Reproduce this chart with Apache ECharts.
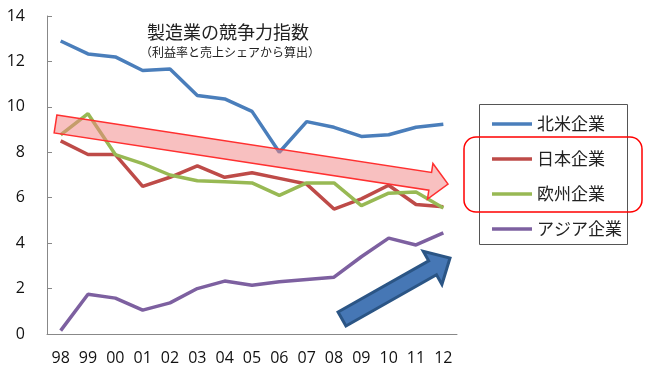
<!DOCTYPE html>
<html><head><meta charset="utf-8">
<script src="https://cdn.jsdelivr.net/npm/echarts@6/dist/echarts.min.js"></script>
<style>html,body{margin:0;padding:0;background:#fff}#c{width:650px;height:371px}</style>
</head><body><div id="c"></div>
<script>
const years = ['98','99','00','01','02','03','04','05','06','07','08','09','10','11','12'];
const northAmerica = [12.9,12.33,12.2,11.6,11.67,10.5,10.35,9.8,8.0,9.35,9.1,8.7,8.77,9.1,9.23];
const japan = [8.5,7.9,7.9,6.5,6.9,7.4,6.9,7.1,6.85,6.6,5.5,5.95,6.55,5.7,5.6];
const europe = [8.77,9.7,7.9,7.5,7.0,6.75,6.7,6.65,6.1,6.65,6.65,5.65,6.2,6.25,5.55];
const asia = [0.15,1.75,1.58,1.05,1.37,2.0,2.33,2.15,2.3,2.4,2.5,3.4,4.22,3.92,4.45];
const seriesNames = ['北米企業','日本企業','欧州企業','アジア企業'];
const colors = ['#4A7EBB','#BE4B48','#98B954','#7D60A0'];

const CJK = '"Noto Sans CJK JP", sans-serif';
const NUM = '"Open Sans", sans-serif';

function arrow(x0,y0,x1,y1,sw,hw,hl){
  const dx=x1-x0, dy=y1-y0, L=Math.hypot(dx,dy);
  const ux=dx/L, uy=dy/L, nx=-uy, ny=ux;
  const bx=x1-ux*hl, by=y1-uy*hl;
  return [
    [x0-nx*sw/2,y0-ny*sw/2],[bx-nx*sw/2,by-ny*sw/2],[bx-nx*hw/2,by-ny*hw/2],
    [x1,y1],[bx+nx*hw/2,by+ny*hw/2],[bx+nx*sw/2,by+ny*sw/2],[x0+nx*sw/2,y0+ny*sw/2]
  ];
}

const chart = echarts.init(document.getElementById('c'));
const data = [northAmerica, japan, europe, asia];
chart.setOption({
  animation:false,
  grid:{left:47,right:193,top:16,bottom:37},
  xAxis:{type:'category',data:years,boundaryGap:true,
    axisLine:{lineStyle:{color:'#888',width:1}},
    axisTick:{inside:true,length:5,lineStyle:{color:'#888'}},
    axisLabel:{fontSize:16,color:'#111',fontFamily:NUM,margin:16}},
  yAxis:{type:'value',min:0,max:14,interval:2,
    axisLine:{show:true,lineStyle:{color:'#888',width:1}},
    axisTick:{show:true,inside:true,length:5,lineStyle:{color:'#888'}},
    splitLine:{show:false},
    axisLabel:{fontSize:16,color:'#111',fontFamily:NUM,margin:22}},
  legend:{orient:'vertical',left:487,top:109,icon:'rect',itemWidth:40,itemHeight:3.5,itemGap:15,
    data:seriesNames,
    textStyle:{fontSize:17,color:'#222',fontFamily:CJK,lineHeight:20}},
  series: seriesNames.map((n,i)=>({name:n,type:'line',data:data[i],symbol:'none',
    lineStyle:{width:3.5,color:colors[i]},itemStyle:{color:colors[i]},z:2})),
  graphic:[
    {type:'text',style:{text:'製造業の競争力指数',x:228,y:32,align:'center',verticalAlign:'middle',
      fill:'#222',font:'18px '+CJK},z:10},
    {type:'text',style:{text:'（利益率と売上シェアから算出）',x:230,y:52,align:'center',verticalAlign:'middle',
      fill:'#222',font:'12px '+CJK},z:10},
    {type:'polygon',shape:{points:arrow(55.5,124,448,184,18,36,18)},
      style:{fill:'rgba(242,130,130,0.5)',stroke:'#FF3030',lineWidth:1.5},z:20},
    {type:'polygon',shape:{points:arrow(342,319,450,258,16,38,20)},
      style:{fill:'#4677B5',stroke:'#2B5585',lineWidth:3,lineJoin:'miter'},z:20},
    {type:'rect',shape:{x:479.5,y:104.5,width:148,height:140},
      style:{fill:'none',stroke:'#555',lineWidth:1},z:5},
    {type:'rect',shape:{x:464,y:137,width:178,height:75,r:12},
      style:{fill:'none',stroke:'#FF0000',lineWidth:1.5},z:25}
  ]
});
</script></body></html>
